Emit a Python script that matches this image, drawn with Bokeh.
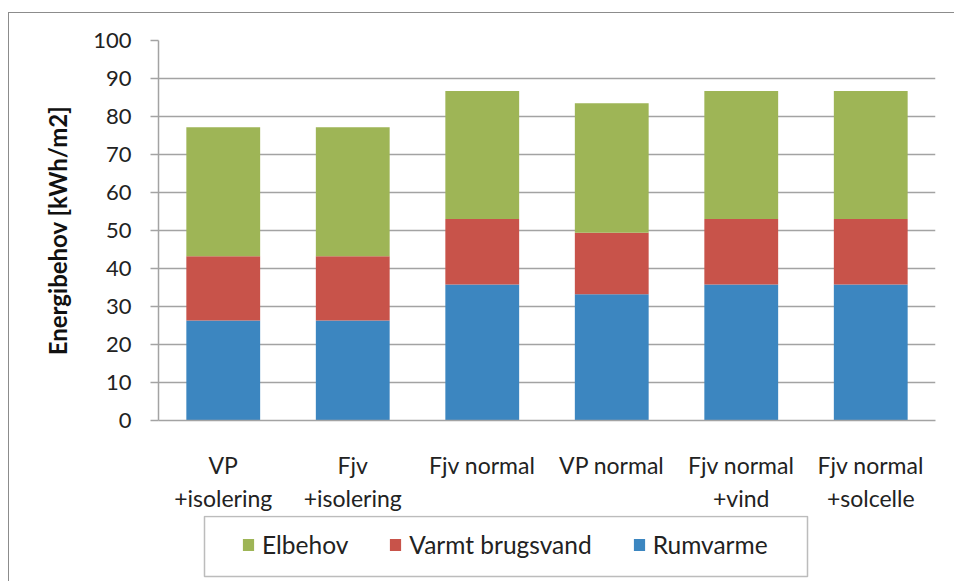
from bokeh.plotting import figure
from bokeh.models import (FactorRange, FixedTicker, Legend, LegendItem, ColumnDataSource,
                          InlineStyleSheet, BoxAnnotation)
from bokeh.layouts import column
from bokeh.embed import file_html
from bokeh.resources import INLINE

categories = ["VP\n+isolering", "Fjv\n+isolering", "Fjv normal", "VP normal", "Fjv normal\n+vind", "Fjv normal\n+solcelle"]
rumvarme = [26.3, 26.3, 35.8, 33.2, 35.8, 35.8]
varmt_brugsvand = [16.9, 16.9, 17.2, 16.2, 17.2, 17.2]
elbehov = [34.0, 34.0, 33.7, 34.1, 33.7, 33.7]
y_ticks = [0, 10, 20, 30, 40, 50, 60, 70, 80, 90, 100]
series = ["Rumvarme", "Varmt", "Elbehov"]
series_labels = ["Rumvarme", "Varmt brugsvand", "Elbehov"]
colors = ["#3c86c0", "#c8534a", "#9eb556"]

FONT = "Lato"
GRID = "#a3a3a3"
BORDER = "#8c8c8c"

source = ColumnDataSource(dict(cat=categories, Rumvarme=rumvarme,
                               Varmt=varmt_brugsvand, Elbehov=elbehov))

# ---------------- main chart ----------------
p = figure(width=954, height=515, x_range=FactorRange(*categories, range_padding=0),
           y_range=(0, 100), output_backend="svg", toolbar_location=None,
           min_border_left=158, min_border_top=40, min_border_right=19, min_border_bottom=95)
p.outline_line_color = None

rs = p.vbar_stack(series, x="cat", width=0.57, source=source, color=colors, line_color=None)

p.xgrid.visible = False
p.ygrid.grid_line_color = GRID
p.ygrid.grid_line_width = 1.5
p.yaxis.ticker = FixedTicker(ticks=y_ticks)
p.yaxis.axis_line_color = GRID
p.yaxis.axis_line_width = 1.5
p.yaxis.major_tick_line_color = GRID
p.yaxis.major_tick_line_width = 1.5
p.yaxis.major_tick_out = 8
p.yaxis.major_tick_in = 0
p.yaxis.minor_tick_line_color = None
p.yaxis.major_label_standoff = 19
p.yaxis.major_label_text_font = FONT
p.yaxis.major_label_text_font_size = "22px"
p.yaxis.major_label_text_color = "#222222"
p.yaxis.axis_label = "Energibehov [kWh/m2]"
p.yaxis.axis_label_text_font = FONT
p.yaxis.axis_label_text_font_style = "bold"
p.yaxis.axis_label_text_font_size = "24px"
p.yaxis.axis_label_text_color = "#111111"
p.yaxis.axis_label_standoff = 18

p.xaxis.axis_line_color = GRID
p.xaxis.axis_line_width = 1.5
p.xaxis.major_tick_line_color = None
p.xaxis.minor_tick_line_color = None
p.xaxis.major_label_standoff = 24
p.xaxis.major_label_text_font = FONT
p.xaxis.major_label_text_font_size = "23px"
p.xaxis.major_label_text_color = "#222222"

p.stylesheets = [InlineStyleSheet(css=""":host { position: relative; }
:host::after { content: ''; position: absolute; left: 8px; top: 12px; right: 0; bottom: 0;
  border-left: 1.5px solid %s; border-top: 1.5px solid %s; pointer-events: none; }""" % (BORDER, BORDER))]

# ---------------- legend strip ----------------
q = figure(width=954, height=66, x_range=FactorRange(*categories, range_padding=0),
           y_range=(1000, 1066), output_backend="svg", toolbar_location=None,
           x_axis_location=None, y_axis_location=None, min_border=0)
q.outline_line_color = None
q.grid.visible = False
qs = q.vbar_stack(series, x="cat", width=0.57, source=source, color=colors, line_color=None)

legend = Legend(items=[LegendItem(label=series_labels[2], renderers=[qs[2]]),
                       LegendItem(label=series_labels[1], renderers=[qs[1]]),
                       LegendItem(label=series_labels[0], renderers=[qs[0]])],
                orientation="horizontal", location=(83, 22),
                label_text_font=FONT, label_text_font_size="24.5px", label_text_color="#222222",
                glyph_width=14, glyph_height=15, label_standoff=7, spacing=40,
                padding=0, margin=0, border_line_color=None,
                background_fill_alpha=0)
q.add_layout(legend, "center")
q.add_layout(BoxAnnotation(left=204, right=807, top=1, bottom=61,
                           left_units="canvas", right_units="canvas",
                           top_units="canvas", bottom_units="canvas",
                           fill_alpha=0, line_color="#222222", line_width=1.5))
q.stylesheets = [InlineStyleSheet(css=""":host { position: relative; }
:host::after { content: ''; position: absolute; left: 8px; top: 0; right: 0; bottom: 0;
  border-left: 1.5px solid %s; pointer-events: none; }""" % BORDER)]

layout = column(p, q, spacing=0)
open("out.html", "w").write(file_html(layout, INLINE))
